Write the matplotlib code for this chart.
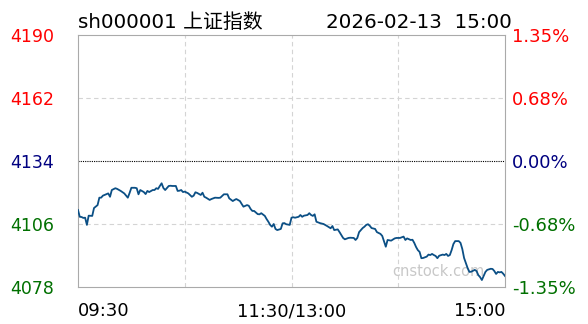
import matplotlib
matplotlib.use("Agg")
import matplotlib.pyplot as plt

plt.rcParams['font.family'] = ['DejaVu Sans', 'Noto Sans CJK SC']

# minute index since 09:30 (0..240, lunch break folded out) and index level
minutes = [0, 1, 2, 3, 4, 5, 6, 8, 9, 11, 12, 13, 14, 16, 17, 18, 19, 21, 22, 24,
           26, 28, 29, 30, 32, 33, 34, 35, 37, 38, 39, 40, 42, 43, 44, 45, 46, 47, 48, 49,
           51, 52, 53, 55, 56, 57, 58, 59, 60, 62, 64, 65, 66, 67, 69, 70, 71, 72, 74, 75,
           77, 79, 80, 82, 84, 85, 87, 88, 89, 91, 92, 93, 95, 96, 97, 98, 99, 101, 102, 103,
           105, 106, 107, 108, 109, 110, 111, 112, 114, 115, 116, 117, 119, 120, 121, 122, 124, 125, 126, 127,
           129, 130, 131, 132, 133, 134, 136, 138, 140, 142, 143, 144, 146, 147, 148, 149, 150, 152, 153, 155,
           156, 157, 158, 160, 161, 162, 163, 164, 165, 167, 168, 170, 171, 173, 174, 176, 178, 179, 181, 183,
           184, 185, 187, 188, 189, 190, 191, 192, 193, 194, 196, 197, 198, 199, 200, 201, 202, 203, 205, 206,
           207, 208, 209, 210, 211, 212, 214, 215, 216, 217, 218, 219, 220, 221, 223, 224, 225, 226, 227, 228,
           229, 230, 232, 233, 234, 235, 236, 237, 238, 239, 240]
prices = [4112.2, 4109.2, 4109.1, 4108.7, 4108.8, 4105.6, 4109.7, 4109.6, 4113.1, 4114.4,
          4117.7, 4117.7, 4118.6, 4119.3, 4119.6, 4118.1, 4121.1, 4121.9, 4121.6, 4120.7,
          4119.6, 4117.7, 4119.8, 4122.1, 4122.1, 4121.9, 4119.2, 4121.1, 4120.2, 4119.3,
          4120.7, 4120.2, 4121.1, 4121.1, 4121.9, 4121.6, 4122.9, 4124.1, 4122.0, 4121.1,
          4122.9, 4123.0, 4122.9, 4122.9, 4120.7, 4120.8, 4121.1, 4120.2, 4120.4, 4119.6,
          4118.1, 4118.6, 4120.1, 4119.8, 4118.9, 4119.9, 4118.1, 4117.7, 4116.7, 4117.1,
          4117.7, 4117.6, 4117.7, 4119.2, 4119.2, 4117.4, 4116.2, 4116.7, 4117.1, 4116.2,
          4114.9, 4113.7, 4114.4, 4114.1, 4112.7, 4111.8, 4111.8, 4110.4, 4110.3, 4110.8,
          4109.6, 4108.2, 4107.0, 4105.6, 4104.8, 4106.0, 4103.8, 4103.3, 4103.8, 4106.3,
          4106.4, 4105.9, 4105.6, 4108.8, 4109.0, 4108.8, 4109.2, 4110.0, 4109.2, 4109.7,
          4110.0, 4110.8, 4110.0, 4109.6, 4110.3, 4107.0, 4106.4, 4106.0, 4105.1, 4104.1,
          4105.1, 4103.3, 4103.6, 4102.4, 4101.1, 4099.8, 4099.2, 4099.8, 4099.9, 4099.8,
          4098.9, 4099.8, 4102.4, 4104.2, 4104.8, 4105.6, 4105.9, 4105.2, 4104.2, 4103.8,
          4102.4, 4101.6, 4100.7, 4095.9, 4098.9, 4098.6, 4099.6, 4099.8, 4099.8, 4100.4,
          4098.9, 4099.6, 4098.9, 4099.0, 4097.6, 4095.8, 4094.4, 4093.6, 4090.8, 4090.9,
          4091.5, 4092.4, 4092.2, 4092.7, 4092.2, 4091.8, 4090.8, 4091.9, 4092.4, 4092.2,
          4092.7, 4091.8, 4092.2, 4094.4, 4097.1, 4098.4, 4098.4, 4097.6, 4094.9, 4090.9,
          4088.7, 4086.4, 4084.7, 4084.8, 4085.6, 4085.1, 4083.3, 4082.4, 4081.1, 4082.9,
          4084.7, 4085.6, 4086.1, 4086.0, 4085.1, 4083.8, 4084.7, 4084.5, 4084.7, 4083.9, 4082.9]

prev_close = 4134
y_ticks = [4078, 4106, 4134, 4162, 4190]
pct_labels = ['-1.35%', '-0.68%', '0.00%', '0.68%', '1.35%']
tick_colors = ['#007000', '#007000', '#000080', '#ff0000', '#ff0000']
x_ticks = [0, 120, 240]
x_labels = ['09:30', '11:30/13:00', '15:00']

fig = plt.figure(figsize=(5.88, 3.24), dpi=100)
ax = fig.add_axes([78 / 588, 1 - 287 / 324, 427 / 588, 252 / 324])

ax.plot(minutes, prices, color='#0b4f85', lw=1.3, zorder=3)
ax.axhline(prev_close, color='black', lw=0.8, ls=(0, (1, 1)), zorder=2)
for yv in [4106, 4162]:
    ax.axhline(yv, color='#d4d4d4', lw=0.8, ls=(0, (4, 3)), zorder=1)
for xv in [60, 120, 180]:
    ax.axvline(xv, color='#d4d4d4', lw=0.8, ls=(0, (4, 3)), zorder=1)

ax.set_xlim(0, 240)
ax.set_ylim(4078, 4190)
for s in ax.spines.values():
    s.set_color('#aaaaaa')

ax.set_yticks(y_ticks)
ax.set_yticklabels([str(v) for v in y_ticks])
ax.tick_params(axis='y', length=0, pad=17.5, labelsize=12.5)
for lab, c in zip(ax.get_yticklabels(), tick_colors):
    lab.set_color(c)

ax.set_xticks(x_ticks)
ax.set_xticklabels(x_labels)
ax.tick_params(axis='x', length=0, pad=11, labelsize=13)
for lab, ha in zip(ax.get_xticklabels(), ['left', 'center', 'right']):
    lab.set_horizontalalignment(ha)

ax2 = ax.twinx()
ax2.set_ylim(ax.get_ylim())
ax2.set_yticks(y_ticks)
ax2.set_yticklabels(pct_labels)
ax2.tick_params(axis='y', length=0, pad=5, labelsize=13)
for lab, c in zip(ax2.get_yticklabels(), tick_colors):
    lab.set_color(c)
for s in ax2.spines.values():
    s.set_visible(False)

ax.text(0.845, 0.063, 'cnstock.com', transform=ax.transAxes, color='#c8c8c8',
        fontsize=10.5, ha='center', va='center', zorder=2)

fig.text(78 / 588, 1 - 22 / 324, 'sh000001 上证指数', fontsize=14.3, ha='left', va='center')
fig.text(512 / 588, 1 - 22 / 324, '2026-02-13  15:00', fontsize=14.3, ha='right', va='center')

fig.savefig('out.png', dpi=100)
